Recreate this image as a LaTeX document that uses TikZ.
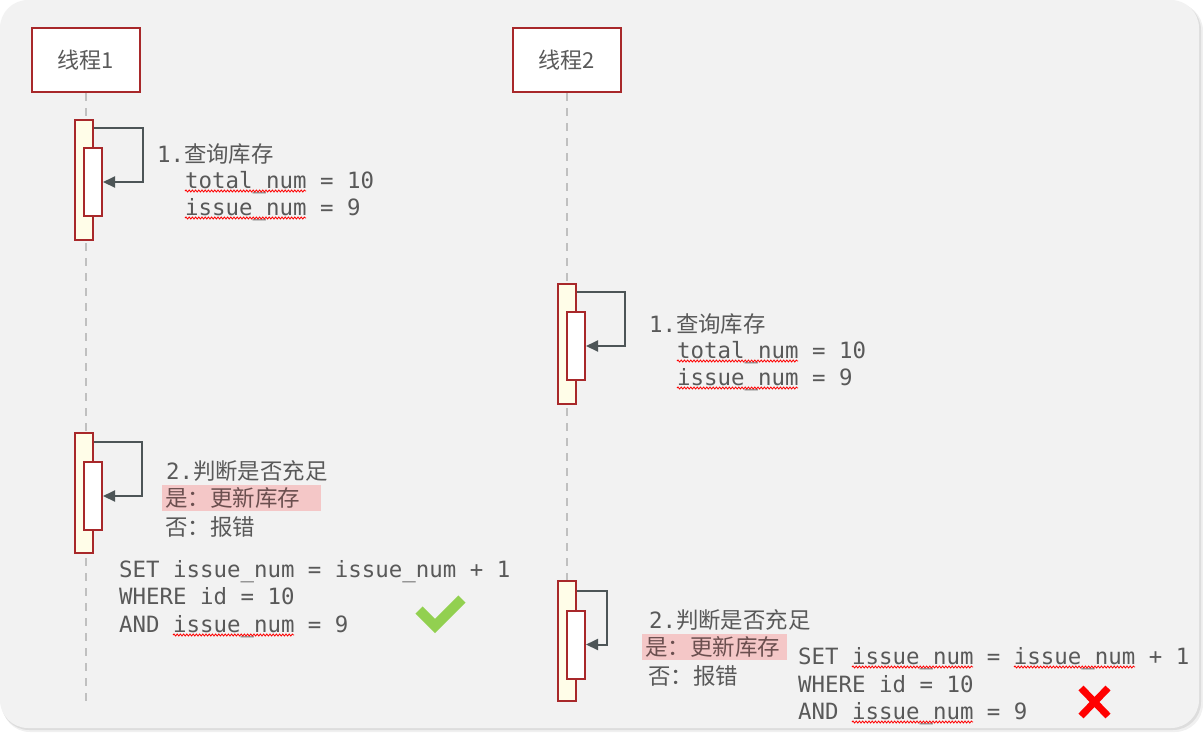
\documentclass[tikz,border=0pt]{standalone}
\usepackage{fontspec}
\newfontfamily\cjk{Noto Sans CJK SC}
\newfontfamily\mono{DejaVu Sans Mono}
\usetikzlibrary{arrows.meta,decorations.pathmorphing,calc}
\definecolor{bgc}{HTML}{F2F2F2}
\definecolor{redb}{HTML}{A8282A}
\definecolor{actfill}{HTML}{FFFDE8}
\definecolor{txt}{HTML}{595959}
\definecolor{arr}{HTML}{4D5557}
\definecolor{life}{HTML}{C0C0C0}
\definecolor{hl}{HTML}{F4C7C7}
\definecolor{hltxt}{HTML}{6B4F4F}
\definecolor{okgreen}{HTML}{92D050}
\begin{document}
\begin{tikzpicture}[x=1pt,y=-1pt,
 thread/.style={draw=redb,line width=2.2pt,fill=white,minimum width=108pt,minimum height=64pt,inner sep=0pt,font=\cjk\fontsize{22}{26}\selectfont,text=txt},
 actouter/.style={draw=redb,line width=2pt,fill=actfill,minimum width=18pt,minimum height=120pt,inner sep=0pt},
 actinner/.style={draw=redb,line width=2pt,fill=white,minimum width=18pt,minimum height=68pt,inner sep=0pt},
 lifeline/.style={draw=life,line width=2pt,dash pattern=on 8pt off 7pt},
 msg/.style={draw=arr,line width=2pt,-{Triangle[length=12pt,width=11pt]}},
 lbl/.style={anchor=base west,inner sep=0pt,text=txt,font=\cjk\fontsize{22.5}{27}\selectfont},
 code/.style={anchor=base west,inner sep=0pt,text=txt,font=\mono\fontsize{22.4}{27}\selectfont},
 hlnode/.style={anchor=west,fill=hl,inner xsep=3pt,inner ysep=0pt,minimum height=26pt,align=left,text=hltxt,font=\cjk\fontsize{22.5}{27}\selectfont},
 spell/.style={draw=red,line width=0.8pt,decorate,decoration={snake,amplitude=1pt,segment length=3.2pt}}
]
\useasboundingbox (0,0) rectangle (1203,732);
\fill[white] (0,0) rectangle (1203,732);
% background panel with shadow
\fill[black,opacity=0.06,rounded corners=28pt] (2,3) rectangle (1203,732);
\fill[black,opacity=0.08,rounded corners=28pt] (1,2) rectangle (1201,730);
\fill[bgc,rounded corners=28pt] (0,0) rectangle (1199,728);

% threads
\node[thread] (t1) at (86,60) {线程1};
\node[thread] (t2) at (567,60) {线程2};
\coordinate (e1) at (86,705);
\coordinate (e2) at (567,705);
\draw[lifeline] (t1.south) -- (e1);
\draw[lifeline] (t2.south) -- (e2);

% activations
\node[actouter] (a1o) at (84,180) {};
\node[actinner] (a1i) at (93,182) {};
\node[actouter] (a2o) at (567,344) {};
\node[actinner] (a2i) at (576,346) {};
\node[actouter] (a3o) at (84,493) {};
\node[actinner] (a3i) at (93,496) {};
\node[actouter] (a4o) at (567,641) {};
\node[actinner] (a4i) at (576,644.5) {};

% self messages
\draw[msg] ([yshift=-9pt]a1o.north east) -- ++(49,0) |- (a1i.east);
\draw[msg] ([yshift=-9pt]a2o.north east) -- ++(48,0) |- (a2i.east);
\draw[msg] ([yshift=-10pt]a3o.north east) -- ++(48,0) |- (a3i.east);
\draw[msg] ([yshift=-11pt]a4o.north east) -- ++(30,0) |- (a4i.east);

% thread 1, step 1
\node[code] (s1h) at (157,162) {1.{\cjk 查询库存}};
\node[code] (s1a) at (185,188) {total\_num = 10};
\node[code] (s1b) at (185,215) {issue\_num = 9};
\draw[spell] ($(s1a.base west)+(0,3)$) -- ++(121,0);
\draw[spell] ($(s1b.base west)+(0,3)$) -- ++(121,0);

% thread 2, step 1
\node[code] (s2h) at (649,332) {1.{\cjk 查询库存}};
\node[code] (s2a) at (677,358) {total\_num = 10};
\node[code] (s2b) at (677,385) {issue\_num = 9};
\draw[spell] ($(s2a.base west)+(0,3)$) -- ++(121,0);
\draw[spell] ($(s2b.base west)+(0,3)$) -- ++(121,0);

% thread 1, step 2
\node[code] (s3h) at (166,479) {2.{\cjk 判断是否充足}};
\node[hlnode,text width=153pt] (s3y) at (162,498) {是：更新库存};
\node[lbl] (s3n) at (165,535) {否：报错};
\node[code] (q1a) at (119,577) {SET issue\_num = issue\_num + 1};
\node[code] (q1b) at (119,604) {WHERE id = 10};
\node[code] (q1c) at (119,632) {AND issue\_num = 9};
\draw[spell] ($(q1c.base west)+(54,3)$) -- ++(121,0);
\draw[okgreen,line width=10pt] (419,610) -- (435,626) -- (462,599);

% thread 2, step 2
\node[code] (s4h) at (649,628) {2.{\cjk 判断是否充足}};
\node[hlnode,text width=139pt] (s4y) at (642,647) {是：更新库存};
\node[lbl] (s4n) at (648,684) {否：报错};
\node[code] (q2a) at (798,664) {SET issue\_num = issue\_num + 1};
\node[code] (q2b) at (798,692) {WHERE id = 10};
\node[code] (q2c) at (798,719) {AND issue\_num = 9};
\draw[spell] ($(q2a.base west)+(54,3)$) -- ++(121,0);
\draw[spell] ($(q2a.base west)+(216,3)$) -- ++(121,0);
\draw[spell] ($(q2c.base west)+(54,3)$) -- ++(121,0);
\draw[red,line width=7pt] (1081,688) -- (1108,716);
\draw[red,line width=7pt] (1108,688) -- (1081,716);
\end{tikzpicture}
\end{document}
